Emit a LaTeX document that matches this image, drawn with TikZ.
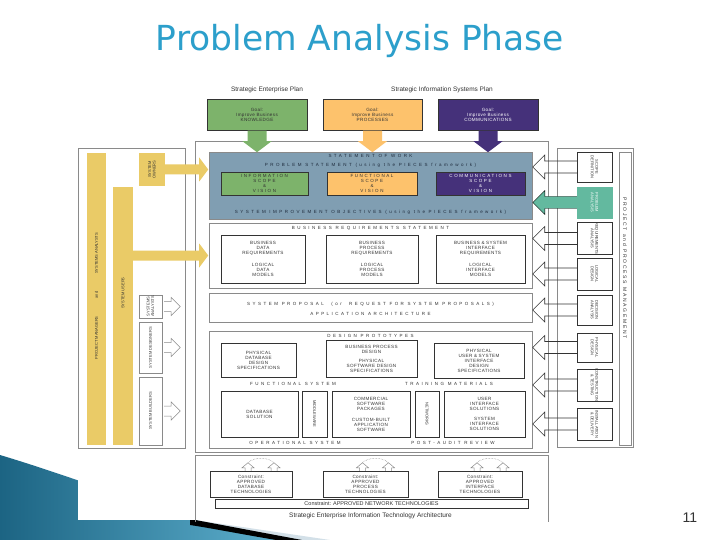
\documentclass[tikz,border=0pt]{standalone}
\usepackage{fontspec}
\setmainfont{Liberation Sans}
\newfontfamily\titlefont{DejaVu Sans}
\newfontfamily\trackfont[LetterSpace=55]{Liberation Sans}
\newfontfamily\scopefont[LetterSpace=35]{Liberation Sans}
\newfontfamily\loosefont[LetterSpace=8]{Liberation Sans}
\usetikzlibrary{calc}

\definecolor{titleblue}{HTML}{2C9FCB}
\definecolor{goalgreen}{HTML}{7DB36B}
\definecolor{goalorange}{HTML}{FDC26C}
\definecolor{goalpurple}{HTML}{45317A}
\definecolor{sowblue}{HTML}{809EB2}
\definecolor{sowtext}{HTML}{1E2B3C}
\definecolor{roleyellow}{HTML}{EACB67}
\definecolor{phaseteal}{HTML}{63B99F}
\definecolor{frameline}{HTML}{8A8A8A}
\definecolor{inktext}{HTML}{333333}
\definecolor{swooshlight}{HTML}{D3E0E8}
\definecolor{swooshdark}{HTML}{1C6483}
\definecolor{swooshpale}{HTML}{5DAFCD}

\tikzstyle{every node}=[inner sep=0pt, text=inktext]
\tikzstyle{box}=[draw=inktext, line width=0.5pt, align=center]
\tikzstyle{frame}=[draw=frameline, line width=0.6pt]
\tikzstyle{spaced}=[font=\fontsize{4.5}{5}\trackfont]
\tikzstyle{scopetext}=[font=\fontsize{4.5}{4.8}\scopefont, align=center]
\tikzstyle{boxtext}=[font=\fontsize{4.6}{5}\loosefont, align=center]
\tikzstyle{sidetext}=[font=\fontsize{4}{4.6}\selectfont, align=center]
\tikzstyle{phasearr}=[draw=inktext, line width=0.6pt]
\tikzstyle{chev}=[draw=frameline, line width=0.5pt]

% fat arrow from a phase box back into the diagram (#1 = left side anchor)
\newcommand\phasearrow[2]{%
  \draw[#2] ($(#1)+(0,-6)$) -- ++(-32,0) -- ++(0,-6) -- ++(-12,12)
    -- ++(12,12) -- ++(0,-6) -- ++(32,0);}
% stem from a goal box down to the statement of work
\newcommand\goalstem[2]{%
  \fill[#2] ($(#1.south)+(-9.5,0)$) -- ++(0,10.5) -- ++(-5,0) -- ++(14.5,11)
    -- ++(14.5,-11) -- ++(-5,0) -- ++(0,-10.5) -- cycle;}
% open arrow beside a role box (#1 = right side anchor)
\newcommand\rolechev[1]{%
  \draw[chev] ($(#1)+(2,-5)$) -- ++(7,0) -- ++(0,-4) -- ++(9,9)
    -- ++(-9,9) -- ++(0,-4) -- ++(-7,0);}
% pair of open arrows over a constraint box
\newcommand\techcycle[1]{%
  \foreach \dx in {-3,23}
    \draw[chev] ($(#1.north)+(\dx-3,0)$) -- ++(0,-3) -- ++(-3,0) -- ++(6,-5)
      -- ++(6,5) -- ++(-3,0) -- ++(0,3);
  \draw[chev, densely dotted] ($(#1.north)+(-3,-8)$) .. controls ($(#1.north)+(3,-14)$)
    and ($(#1.north)+(17,-14)$) .. ($(#1.north)+(23,-8)$);}

\begin{document}
\begin{tikzpicture}[x=1pt, y=-1pt]
\useasboundingbox (0,0) rectangle (720,540);
\fill[white] (0,0) rectangle (720,540);

% slide swoosh, partly under the diagram
\fill[swooshlight] (195,520) -- (330,540) -- (250,540) -- cycle;
\shade[left color=swooshdark, right color=swooshpale] (0,455) .. controls (100,485) and (200,528) .. (278,540) -- (0,540) -- cycle;
\fill[black] (190,519) -- (302,540) -- (276,540) .. controls (235,533) and (210,528) .. (190,525) -- cycle;
\fill[white] (78,60) rectangle (640,520);

\node[font=\titlefont\fontsize{34.5}{40}\selectfont, text=titleblue] (title) at (360,41) {Problem Analysis Phase};
\node[font=\fontsize{14}{16}\selectfont] (pagenum) at (690,518) {11};

% plans and goals
\node[font=\fontsize{6.5}{7}\selectfont] (entplan) at (267,90) {Strategic Enterprise Plan};
\node[font=\fontsize{6.5}{7}\selectfont] (isplan) at (442,90) {Strategic Information Systems Plan};
\node[box, boxtext, fill=goalgreen, minimum width=100, minimum height=31] (goalknow) at (257,115) {Goal:\\Improve Business\\KNOWLEDGE};
\node[box, boxtext, fill=goalorange, minimum width=99, minimum height=31] (goalproc) at (372.5,115) {Goal:\\Improve Business\\PROCESSES};
\node[box, boxtext, fill=goalpurple, text=white, minimum width=100, minimum height=31] (goalcomm) at (488,115) {Goal:\\Improve Business\\COMMUNICATIONS};

% frames
\draw[frame] (195,141) rectangle (548,452);
\draw[frame] (78,148) rectangle (185,448);
\draw[frame] (557,148) rectangle (633,447);
\draw[frame] (195,522) -- (195,455) -- (548,455) -- (548,522);

\goalstem{goalknow}{goalgreen}
\goalstem{goalproc}{goalorange}
\goalstem{goalcomm}{goalpurple}

% statement of work
\node[fill=sowblue, draw=frameline, minimum width=323, minimum height=67] (sow) at (370.5,185.5) {};
\node[spaced, text=sowtext] (sowtitle) at (370.5,156) {STATEMENT OF WORK};
\node[spaced, text=sowtext] (probstmt) at (370.5,165) {PROBLEM STATEMENT (using the PIECES framework)};
\node[box, scopetext, fill=goalgreen, minimum width=87, minimum height=23] (infoscope) at (264.5,183.5) {INFORMATION\\SCOPE\\\&\\VISION};
\node[box, scopetext, fill=goalorange, minimum width=90, minimum height=23] (funcscope) at (372,183.5) {FUNCTIONAL\\SCOPE\\\&\\VISION};
\node[box, scopetext, fill=goalpurple, text=white, minimum width=89, minimum height=23] (commscope) at (480.5,183.5) {COMMUNICATIONS\\SCOPE\\\&\\VISION};
\node[spaced, text=sowtext] (objectives) at (370.5,212) {SYSTEM IMPROVEMENT OBJECTIVES (using the PIECES framework)};

% business requirements
\node[draw=frameline, minimum width=323, minimum height=65] (reqstmt) at (370.5,255.5) {};
\node[spaced] (reqtitle) at (370.5,228) {BUSINESS REQUIREMENTS STATEMENT};
\node[box, boxtext, minimum width=84, minimum height=48] (datareq) at (263,259) {BUSINESS\\DATA\\REQUIREMENTS\\[7pt]LOGICAL\\DATA\\MODELS};
\node[box, boxtext, minimum width=92, minimum height=48] (procreq) at (372,259) {BUSINESS\\PROCESS\\REQUIREMENTS\\[7pt]LOGICAL\\PROCESS\\MODELS};
\node[box, boxtext, minimum width=89, minimum height=48] (intreq) at (480.5,259) {BUSINESS \& SYSTEM\\INTERFACE\\REQUIREMENTS\\[7pt]LOGICAL\\INTERFACE\\MODELS};

% system proposal
\node[draw=frameline, minimum width=323, minimum height=29] (proposal) at (370.5,307.5) {};
\node[spaced] (proptext) at (370.5,304) {SYSTEM PROPOSAL \ (or \ REQUEST FOR SYSTEM PROPOSALS)};
\node[spaced] (archtext) at (370.5,313.5) {APPLICATION ARCHITECTURE};

% design and construction
\node[draw=frameline, minimum width=323, minimum height=117] (design) at (370.5,389.5) {};
\node[spaced] (prototypes) at (370.5,336) {DESIGN PROTOTYPES};
\node[box, boxtext, minimum width=75, minimum height=34] (dbspec) at (258.5,360) {PHYSICAL\\DATABASE\\DESIGN\\SPECIFICATIONS};
\node[box, boxtext, minimum width=91, minimum height=37] (swspec) at (371.5,358.5) {BUSINESS PROCESS\\DESIGN\\[4pt]PHYSICAL\\SOFTWARE DESIGN\\SPECIFICATIONS};
\node[box, boxtext, minimum width=90, minimum height=35] (uispec) at (479,360.5) {PHYSICAL\\USER \& SYSTEM\\INTERFACE\\DESIGN\\SPECIFICATIONS};
\node[spaced] (funcsys) at (293,384) {FUNCTIONAL SYSTEM};
\node[spaced] (training) at (449,384) {TRAINING MATERIALS};
\node[box, boxtext, minimum width=77, minimum height=46] (dbsol) at (259.5,414) {DATABASE\\SOLUTION};
\node[box, minimum width=25, minimum height=46] (mware) at (314.5,414) {};
\node[sidetext, rotate=-90] (mwaretext) at (mware) {MIDDLEWARE};
\node[box, boxtext, minimum width=78, minimum height=46] (swsol) at (371,414) {COMMERCIAL\\SOFTWARE\\PACKAGES\\[6pt]CUSTOM-BUILT\\APPLICATION\\SOFTWARE};
\node[box, minimum width=24, minimum height=46] (netsol) at (427,414) {};
\node[sidetext, rotate=-90] (netsoltext) at (netsol) {NETWORKS};
\node[box, boxtext, minimum width=81, minimum height=46] (uisol) at (484.5,414) {USER\\INTERFACE\\SOLUTIONS\\[5pt]SYSTEM\\INTERFACE\\SOLUTIONS};
\node[spaced] (opsys) at (295,443) {OPERATIONAL SYSTEM};
\node[spaced] (postaudit) at (453,443) {POST-AUDIT REVIEW};

% technology constraints
\node[box, boxtext, minimum width=82, minimum height=26] (dbtech) at (251,484) {Constraint:\\APPROVED\\DATABASE\\TECHNOLOGIES};
\node[box, boxtext, minimum width=85, minimum height=26] (proctech) at (365.5,484) {Constraint:\\APPROVED\\PROCESS\\TECHNOLOGIES};
\node[box, boxtext, minimum width=84, minimum height=26] (inttech) at (480,484) {Constraint:\\APPROVED\\INTERFACE\\TECHNOLOGIES};
\node[box, font=\fontsize{5.5}{6}\selectfont, minimum width=313, minimum height=9] (nettech) at (371.5,503.5) {Constraint: APPROVED NETWORK TECHNOLOGIES};
\node[font=\fontsize{6.5}{7}\selectfont] (itarch) at (370.5,516) {Strategic Enterprise Information Technology Architecture};
\techcycle{dbtech}
\techcycle{proctech}
\techcycle{inttech}

% roles
\node[fill=roleyellow, minimum width=19, minimum height=292] (pmbar) at (96.5,299) {};
\node[sidetext, rotate=90] (pmtext) at (96.5,296) {PROJECT MANAGERS\hspace{18pt}and\hspace{18pt}SYSTEMS ANALYSTS};
\node[fill=roleyellow, minimum width=20, minimum height=258] (usersbar) at (123,316) {};
\node[sidetext, rotate=90] (userstext) at (123,293) {SYSTEM USERS};
\node[fill=roleyellow, sidetext, rotate=90, minimum width=33, minimum height=26] (owners) at (152,169.5) {SYSTEM\\OWNERS};
\node[draw=frameline, sidetext, rotate=90, minimum width=23, minimum height=23] (analysts) at (150.5,306.5) {SYSTEMS\\ANALYSTS};
\node[draw=frameline, sidetext, rotate=90, minimum width=51, minimum height=23] (designers) at (150.5,347.5) {SYSTEM DESIGNERS};
\node[draw=frameline, sidetext, rotate=90, minimum width=68, minimum height=23] (builders) at (150.5,411) {SYSTEM BUILDERS};
\fill[roleyellow] ($(owners.south)+(0,-5)$) -- ++(34,0) -- ++(0,-7) -- ++(9,12) -- ++(-9,12) -- ++(0,-7) -- ++(-34,0) -- cycle;
\fill[roleyellow] ($(usersbar.east |- reqstmt.west)+(0,-5)$) -- ++(66,0) -- ++(0,-7) -- ++(9,12) -- ++(-9,12) -- ++(0,-7) -- ++(-66,0) -- cycle;
\rolechev{analysts.south}
\rolechev{designers.south}
\rolechev{builders.south}

% phases
\node[box, sidetext, rotate=-90, minimum width=30, minimum height=35] (scope) at (594.5,167) {SCOPE\\DEFINITION};
\node[draw=phaseteal, fill=phaseteal, sidetext, text=white, rotate=-90, minimum width=31, minimum height=35] (probanal) at (594.5,202.5) {PROBLEM\\ANALYSIS};
\node[box, sidetext, rotate=-90, minimum width=31, minimum height=35] (reqanal) at (594.5,238.5) {REQUIREMENTS\\ANALYSIS};
\node[box, sidetext, rotate=-90, minimum width=32, minimum height=35] (logdes) at (594.5,274) {LOGICAL\\DESIGN};
\node[box, sidetext, rotate=-90, minimum width=30, minimum height=35] (decanal) at (594.5,310) {DECISION\\ANALYSIS};
\node[box, sidetext, rotate=-90, minimum width=29, minimum height=35] (physdes) at (594.5,347.5) {PHYSICAL\\DESIGN};
\node[box, sidetext, rotate=-90, minimum width=30, minimum height=35] (constr) at (594.5,385) {CONSTRUCTION\\\& TESTING};
\node[box, sidetext, rotate=-90, minimum width=32, minimum height=35] (install) at (594.5,424) {INSTALLATION\\\& DELIVERY};
\node[draw=frameline, minimum width=12, minimum height=293] (pmstrip) at (625,298.5) {};
\node[font=\fontsize{5}{6}\scopefont, rotate=-90] (pmstriptext) at (625,268) {PROJECT and PROCESS MANAGEMENT};
\phasearrow{scope.south}{phasearr}
\phasearrow{probanal.south}{fill=phaseteal}
\phasearrow{reqanal.south}{phasearr}
\phasearrow{logdes.south}{phasearr}
\phasearrow{decanal.south}{phasearr}
\phasearrow{physdes.south}{phasearr}
\phasearrow{constr.south}{phasearr}
\phasearrow{install.south}{phasearr}
\end{tikzpicture}
\end{document}
